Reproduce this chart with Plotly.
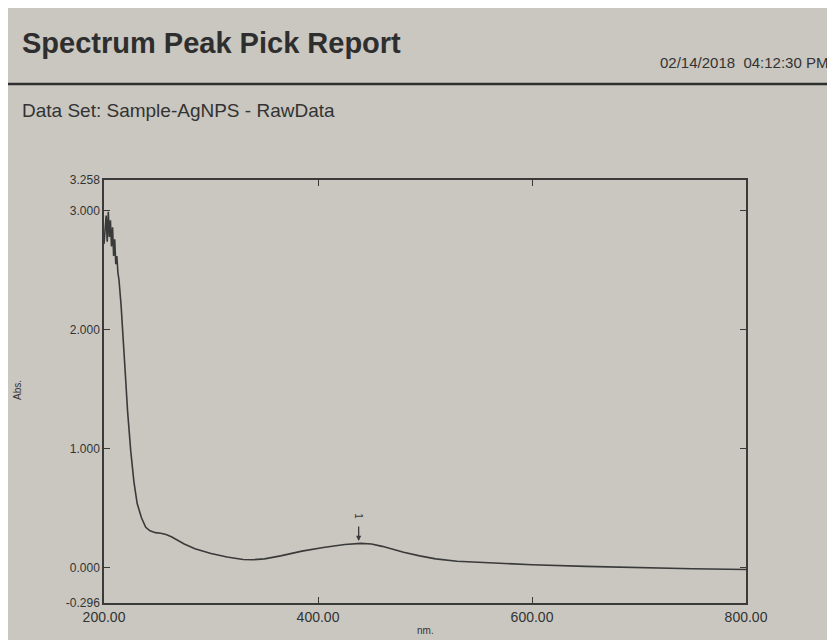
import plotly.graph_objects as go

# Wavelength (nm) and absorbance
wavelength = [200, 201, 202, 203, 204, 205, 206, 207, 208, 209, 210, 211, 212, 213, 214,
              216, 218, 220, 222, 225, 228, 231, 235, 239, 243, 248, 253, 258, 263, 268,
              275, 285, 300, 315, 330, 340, 350, 365, 385, 405, 425, 440, 450, 460,
              470, 480, 495, 510, 530, 560, 600, 650, 700, 750, 800]
absorbance = [2.72, 2.90, 2.96, 2.74, 2.99, 2.78, 2.92, 2.70, 2.86, 2.62, 2.76, 2.55, 2.62, 2.48, 2.42,
              2.20, 1.95, 1.62, 1.32, 0.98, 0.72, 0.54, 0.42, 0.34, 0.31, 0.295, 0.29, 0.28, 0.26, 0.235,
              0.20, 0.16, 0.12, 0.09, 0.07, 0.068, 0.075, 0.10, 0.14, 0.17, 0.195, 0.205, 0.20, 0.18,
              0.155, 0.13, 0.10, 0.075, 0.055, 0.04, 0.025, 0.012, 0.0, -0.008, -0.015]

y_tick_vals = [-0.296, 0.0, 1.0, 2.0, 3.0, 3.258]
y_tick_text = ["-0.296", "0.000", "1.000", "2.000", "3.000", "3.258"]
x_tick_vals = [200, 400, 600, 800]
x_tick_text = ["200.00", "400.00", "600.00", "800.00"]
peak_nm = 438
peak_abs = 0.205

bg = "#c9c7c0"
ink = "#3a3a3a"

PW, PH = 642, 423  # plot area size in px


def px(xp):
    return (xp - 104) / PW


def py(yp):
    return (603 - yp) / PH


fig = go.Figure()
fig.add_trace(go.Scatter(x=wavelength, y=absorbance, mode="lines",
                         line=dict(color=ink, width=1.6), showlegend=False,
                         hoverinfo="skip"))

fig.add_annotation(x=peak_nm, y=peak_abs + 0.02, ax=0, ay=-16, showarrow=True,
                   arrowhead=2, arrowsize=0.8, arrowwidth=1.3, arrowcolor=ink, text="")
fig.add_annotation(x=peak_nm, y=peak_abs + 0.23, text="1", textangle=90, showarrow=False,
                   font=dict(size=10, color=ink, family="Liberation Sans"))

fig.update_layout(
    width=827, height=632,
    paper_bgcolor=bg, plot_bgcolor=bg,
    margin=dict(l=96, r=89, t=172, b=37),
    font=dict(family="Liberation Sans, Arial, sans-serif", color="#333333"),
    xaxis=dict(range=[200, 800], tickvals=x_tick_vals, ticktext=x_tick_text,
               ticks="inside", ticklen=6, tickcolor=ink, showline=True, linecolor=ink,
               linewidth=1.5, mirror="allticks", showgrid=False, zeroline=False,
               tickfont=dict(size=14, color="#333333")),
    yaxis=dict(range=[-0.296, 3.258], tickvals=y_tick_vals, ticktext=y_tick_text,
               ticks="inside", ticklen=6, tickcolor=ink, showline=True, linecolor=ink,
               linewidth=1.5, mirror="allticks", showgrid=False, zeroline=False,
               tickfont=dict(size=12, color="#333333")),
    shapes=[dict(type="line", xref="paper", yref="paper", x0=px(0), x1=px(835),
                 y0=py(84), y1=py(84), line=dict(color="#2e2e2e", width=2.5))],
)

fig.add_annotation(xref="paper", yref="paper", x=px(20), y=py(43), xanchor="left",
                   yanchor="middle", showarrow=False, text="<b>Spectrum Peak Pick Report</b>",
                   font=dict(size=29, color="#2e2e2e", family="Liberation Sans, Arial"))
fig.add_annotation(xref="paper", yref="paper", x=px(830), y=py(63),
                   xanchor="right", yanchor="middle", showarrow=False,
                   text="02/14/2018&nbsp;&nbsp;04:12:30 PM",
                   font=dict(size=15, color="#333333", family="Liberation Sans, Arial"))
fig.add_annotation(xref="paper", yref="paper", x=px(20), y=py(110), xanchor="left",
                   yanchor="middle", showarrow=False, text="Data Set: Sample-AgNPS - RawData",
                   font=dict(size=19, color="#333333", family="Liberation Sans, Arial"))
fig.add_annotation(xref="paper", yref="paper", x=px(17), y=py(390),
                   xanchor="center", yanchor="middle", showarrow=False, text="Abs.",
                   textangle=-90, font=dict(size=10, color="#333333"))
fig.add_annotation(xref="paper", yref="paper", x=px(425), y=py(630),
                   xanchor="center", yanchor="middle", showarrow=False, text="nm.",
                   font=dict(size=10, color="#333333"))

fig.write_html("out.html")
